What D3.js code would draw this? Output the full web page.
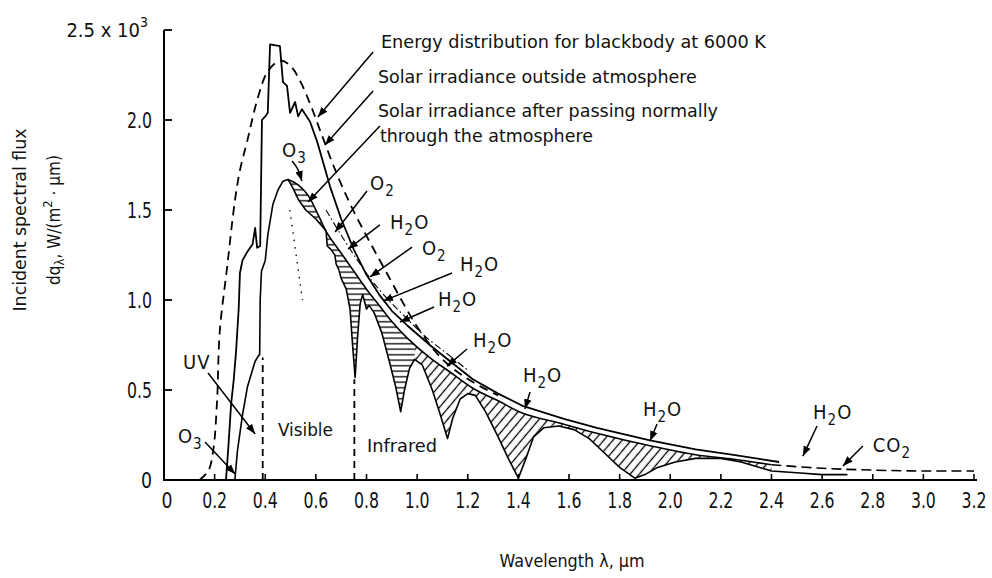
<!DOCTYPE html>
<html><head><meta charset="utf-8">
<script src="https://cdn.jsdelivr.net/npm/d3@7"></script>
<style>
body{margin:0;background:#fff}
svg{display:block;background:#fff}
text{font-family:'DejaVu Sans Condensed','Liberation Sans Narrow','DejaVu Sans',sans-serif;font-stretch:condensed;fill:#111}
</style></head><body>
<svg id="c" width="992" height="578"></svg>
<script>
// ---------- data (wavelength in µm, flux in 10^3 W/(m²·µm)) ----------
const xTicks = [0,0.2,0.4,0.6,0.8,1.0,1.2,1.4,1.6,1.8,2.0,2.2,2.4,2.6,2.8,3.0,3.2];
const xTickLabels = ["0","0.2","0.4","0.6","0.8","1.0","1.2","1.4","1.6","1.8","2.0","2.2","2.4","2.6","2.8","3.0","3.2"];
const yTicks = [0,0.5,1.0,1.5,2.0,2.5];
const yTickLabels = ["0","0.5","1.0","1.5","2.0","2.5 x 10"];

const blackbody = [[0.14,0.0],[0.175,0.05],[0.195,0.17],[0.21,0.45],[0.22,0.82],[0.25,1.19],[0.28,1.55],[0.30,1.72],[0.33,1.89],[0.37,2.12],[0.41,2.27],[0.46,2.33],[0.50,2.30],[0.54,2.21],[0.58,2.08],[0.62,1.93],[0.68,1.71],[0.74,1.52],[0.81,1.33],[0.88,1.15],[0.95,0.97],[1.01,0.83],[1.10,0.67],[1.18,0.58],[1.25,0.52],[1.32,0.47]];

const outside = [[0.245,0.0],[0.255,0.2],[0.265,0.42],[0.275,0.55],[0.285,0.72],[0.295,0.95],[0.30,1.15],[0.31,1.22],[0.33,1.27],[0.35,1.31],[0.36,1.40],[0.368,1.29],[0.38,1.30],[0.387,2.0],[0.40,2.02],[0.41,2.04],[0.419,2.42],[0.458,2.41],[0.47,2.21],[0.486,2.19],[0.498,2.04],[0.518,2.10],[0.53,2.02],[0.545,2.06],[0.577,1.99],[0.605,1.88],[0.656,1.63],[0.70,1.45],[0.75,1.28],[0.80,1.14],[0.85,1.03],[0.90,0.94],[0.96,0.86],[1.05,0.75],[1.13,0.66],[1.22,0.56],[1.32,0.48],[1.42,0.41],[1.58,0.34],[1.71,0.29],[1.92,0.22],[2.10,0.17],[2.25,0.14],[2.43,0.10]];

const envelope = [[0.49,1.67],[0.53,1.64],[0.57,1.58],[0.61,1.47],[0.645,1.37],[0.70,1.26],[0.75,1.16],[0.80,1.06],[0.85,0.97],[0.90,0.88],[0.96,0.79],[1.05,0.68],[1.13,0.60],[1.22,0.51],[1.32,0.44],[1.42,0.37],[1.58,0.31],[1.71,0.26],[1.92,0.19],[2.10,0.14],[2.25,0.115],[2.40,0.085]];
const envelopeTail = [[2.40,0.085],[2.6,0.065],[2.8,0.055],[3.0,0.05],[3.2,0.05]];
const scatterMid = [[0.64,1.50],[0.70,1.36],[0.76,1.23],[0.82,1.11],[0.88,1.01],[0.95,0.91],[1.03,0.80],[1.12,0.70],[1.20,0.61]];

const surface = [[0.28,0.0],[0.29,0.16],[0.31,0.36],[0.33,0.52],[0.36,0.66],[0.378,0.70],[0.38,1.0],[0.385,1.16],[0.40,1.22],[0.41,1.36],[0.43,1.53],[0.45,1.61],[0.47,1.66],[0.49,1.67],[0.51,1.62],[0.53,1.56],[0.56,1.50],[0.60,1.45],[0.64,1.385],[0.645,1.30],[0.66,1.28],[0.675,1.25],[0.68,1.20],[0.69,1.17],[0.70,1.12],[0.72,1.06],[0.735,0.95],[0.745,0.75],[0.755,0.57],[0.765,0.80],[0.775,0.98],[0.785,1.03],[0.80,0.95],[0.81,0.97],[0.83,0.93],[0.86,0.82],[0.89,0.66],[0.915,0.52],[0.935,0.38],[0.95,0.50],[0.97,0.62],[0.99,0.67],[1.02,0.64],[1.06,0.50],[1.09,0.37],[1.12,0.23],[1.14,0.34],[1.17,0.45],[1.20,0.48],[1.23,0.47],[1.27,0.38],[1.32,0.24],[1.36,0.12],[1.40,0.01],[1.43,0.12],[1.46,0.24],[1.50,0.29],[1.56,0.30],[1.62,0.28],[1.68,0.23],[1.74,0.15],[1.80,0.07],[1.86,0.01],[1.90,0.03],[1.95,0.07],[2.02,0.10],[2.10,0.12],[2.20,0.12],[2.28,0.10],[2.34,0.075],[2.40,0.05],[2.5,0.04],[2.6,0.03],[2.7,0.03]];

const o3Dotted = [[0.497,1.50],[0.547,1.0]];
const regionBounds = [[0.39,0.68],[0.752,0.56]];

// ---------- drawing ----------
const svg = d3.select("#c");
const x = d3.scaleLinear().domain([0,3.2]).range([164,974]);
const y = d3.scaleLinear().domain([0,2.5]).range([480,30]);
const lin = d3.line().x(d=>x(d[0])).y(d=>y(d[1]));
const smooth = d3.line().x(d=>x(d[0])).y(d=>y(d[1])).curve(d3.curveCatmullRom.alpha(0.5));

const defs = svg.append("defs");
defs.append("marker").attr("id","ah").attr("viewBox","0 0 10 10").attr("refX",10).attr("refY",5)
  .attr("markerWidth",10).attr("markerHeight",10).attr("markerUnits","userSpaceOnUse").attr("orient","auto")
  .append("path").attr("d","M0,1.2 L10,5 L0,8.8 Z").attr("fill","#000");
const pH = defs.append("pattern").attr("id","hH").attr("patternUnits","userSpaceOnUse").attr("width",8).attr("height",5.5);
pH.append("line").attr("x1",0).attr("y1",2.7).attr("x2",8).attr("y2",2.7).attr("stroke","#000").attr("stroke-width",1.3);
const pD = defs.append("pattern").attr("id","hD").attr("patternUnits","userSpaceOnUse").attr("width",7).attr("height",7).attr("patternTransform","rotate(40)");
pD.append("line").attr("x1",3.5).attr("y1",0).attr("x2",3.5).attr("y2",7).attr("stroke","#000").attr("stroke-width",1.3);
defs.append("clipPath").attr("id","cL").append("rect").attr("x",x(0.4)).attr("y",0).attr("width",x(0.99)-x(0.4)).attr("height",578);
defs.append("clipPath").attr("id","cR").append("rect").attr("x",x(0.99)).attr("y",0).attr("width",x(3.3)-x(0.99)).attr("height",578);

// hatched absorption areas
const poly = envelope.concat(surface.filter(d=>d[0]>=0.49 && d[0]<=2.40).slice().reverse());
const polyPath = lin(poly)+"Z";
svg.append("path").attr("d",polyPath).attr("fill","url(#hH)").attr("clip-path","url(#cL)");
svg.append("path").attr("d",polyPath).attr("fill","url(#hD)").attr("clip-path","url(#cR)");

// curves
const stroke = (sel,w)=>sel.attr("fill","none").attr("stroke","#000").attr("stroke-width",w).attr("stroke-linejoin","round");
stroke(svg.append("path").attr("d",smooth(blackbody)),1.8).attr("stroke-dasharray","9,6");
stroke(svg.append("path").attr("d",lin(outside)),1.8);
stroke(svg.append("path").attr("d",smooth(envelope)),1.6);
stroke(svg.append("path").attr("d",smooth(envelopeTail)),1.6).attr("stroke-dasharray","10,5");
stroke(svg.append("path").attr("d",smooth(scatterMid)),1.1).attr("stroke-dasharray","7,3,1.5,3");
stroke(svg.append("path").attr("d",lin(surface)),1.6);
stroke(svg.append("path").attr("d",lin(o3Dotted)),1.3).attr("stroke-dasharray","1.5,6");
regionBounds.forEach(b=>{
  stroke(svg.append("line").attr("x1",x(b[0])).attr("x2",x(b[0])).attr("y1",y(0)).attr("y2",y(b[1])),1.8).attr("stroke-dasharray","7,5");
});

// helper: condensed text squeezed to a target width
function ctext(parent, str, px, py, size, w, anchor){
  const t = parent.append("text").attr("x",px).attr("y",py).attr("font-size",size).text(str);
  if (anchor) t.attr("text-anchor",anchor);
  if (w) t.attr("textLength",w).attr("lengthAdjust","spacingAndGlyphs");
  return t;
}

// axes
const ax = svg.append("g");
stroke(ax.append("path").attr("d",`M${x(0)},${y(2.5)}V${y(0)}H${x(3.2)+3}`),2).attr("stroke-linejoin","miter");
yTicks.forEach((t,i)=>{
  stroke(ax.append("line").attr("x1",x(0)).attr("x2",x(0)+8).attr("y1",y(t)).attr("y2",y(t)),1.8);
  if (t===2.5){
    const tx = ax.append("text").attr("x",x(0)-16).attr("y",y(t)+7).attr("text-anchor","end").attr("font-size",20);
    tx.append("tspan").text(yTickLabels[i]);
    tx.append("tspan").attr("dy",-10).attr("font-size",14).text("3");
  } else {
    ctext(ax, yTickLabels[i], x(0)-12, y(t)+8, 22, t===0?11:25, "end");
  }
});
xTicks.forEach((t,i)=>{
  if (t>0) stroke(ax.append("line").attr("x1",x(t)).attr("x2",x(t)).attr("y1",y(0)).attr("y2",y(0)-6),1.6);
  ctext(ax, xTickLabels[i], x(t)+(t===0?3:0), y(0)+28, 22, t===0?11:25, "middle");
});

// axis titles
ctext(svg, "Wavelength λ, µm", 572, 567, 17, 145, "middle");
const yt = svg.append("g").attr("transform","translate(26,220) rotate(-90)");
ctext(yt, "Incident spectral flux", 0, 0, 17, 183, "middle");
const yt2 = yt.append("text").attr("y",34).attr("text-anchor","middle").attr("font-size",17);
yt2.append("tspan").text("dq");
yt2.append("tspan").attr("dy",4).attr("font-size",13).text("λ");
yt2.append("tspan").attr("dy",-4).text(", W/(m");
yt2.append("tspan").attr("dy",-8).attr("font-size",13).text("2");
yt2.append("tspan").attr("dy",8).text(" · µm)");

// annotations (positions in data units)
const big = [
  {s:"Energy distribution for blackbody at 6000 K", p:[0.857,2.40], w:385},
  {s:"Solar irradiance outside atmosphere", p:[0.845,2.206], w:319},
  {s:"Solar irradiance after passing normally", p:[0.845,2.017], w:340},
  {s:"through the atmosphere", p:[0.853,1.878], w:213},
  {s:"Visible", p:[0.45,0.244], w:55},
  {s:"Infrared", p:[0.802,0.156], w:70}
];
big.forEach(d=> ctext(svg, d.s, x(d.p[0]), y(d.p[1]), 18, d.w));

const chem = [
  {m:"O", s:"3", p:[0.466,1.794]},
  {m:"O", s:"2", p:[0.814,1.611]},
  {m:"H", s:"2", e:"O", p:[0.893,1.394]},
  {m:"O", s:"2", p:[1.019,1.25]},
  {m:"H", s:"2", e:"O", p:[1.169,1.161]},
  {m:"H", s:"2", e:"O", p:[1.082,0.967]},
  {m:"H", s:"2", e:"O", p:[1.221,0.739]},
  {m:"H", s:"2", e:"O", p:[1.418,0.544]},
  {m:"H", s:"2", e:"O", p:[1.892,0.356]},
  {m:"H", s:"2", e:"O", p:[2.564,0.339]},
  {m:"CO", s:"2", p:[2.80,0.156]},
  {m:"UV", p:[0.075,0.617]},
  {m:"O", s:"3", p:[0.055,0.206]}
];
chem.forEach(d=>{
  const t = svg.append("text").attr("x",x(d.p[0])).attr("y",y(d.p[1])).attr("font-size",20).attr("letter-spacing",1);
  t.append("tspan").text(d.m);
  if (d.s){ t.append("tspan").attr("dy",6).attr("font-size",15).text(d.s); }
  if (d.e){ t.append("tspan").attr("dy",-6).text(d.e); }
});
const arrows = [
  [[0.826,2.378],[0.608,2.017]],
  [[0.826,2.161],[0.636,1.861]],
  [[0.853,1.967],[0.569,1.544]],
  [[0.802,1.606],[0.676,1.378]],
  [[0.853,1.417],[0.727,1.283]],
  [[0.98,1.294],[0.814,1.128]],
  [[1.138,1.15],[0.865,0.994]],
  [[1.067,0.961],[0.932,0.878]],
  [[1.197,0.728],[1.118,0.633]],
  [[1.446,0.489],[1.426,0.394]],
  [[1.948,0.311],[1.92,0.217]],
  [[2.58,0.30],[2.524,0.133]],
  [[2.761,0.189],[2.682,0.078]],
  [[0.174,0.594],[0.36,0.256]],
  [[0.162,0.211],[0.281,0.033]]
];
arrows.forEach(a=>{
  stroke(svg.append("path").attr("d",lin(a)),1.5).attr("marker-end","url(#ah)");
});
const o3Leader = [[0.506,1.772],[0.527,1.73],[0.545,1.661]];
stroke(svg.append("path").attr("d",smooth(o3Leader)),1.5).attr("marker-end","url(#ah)");
</script></body></html>
